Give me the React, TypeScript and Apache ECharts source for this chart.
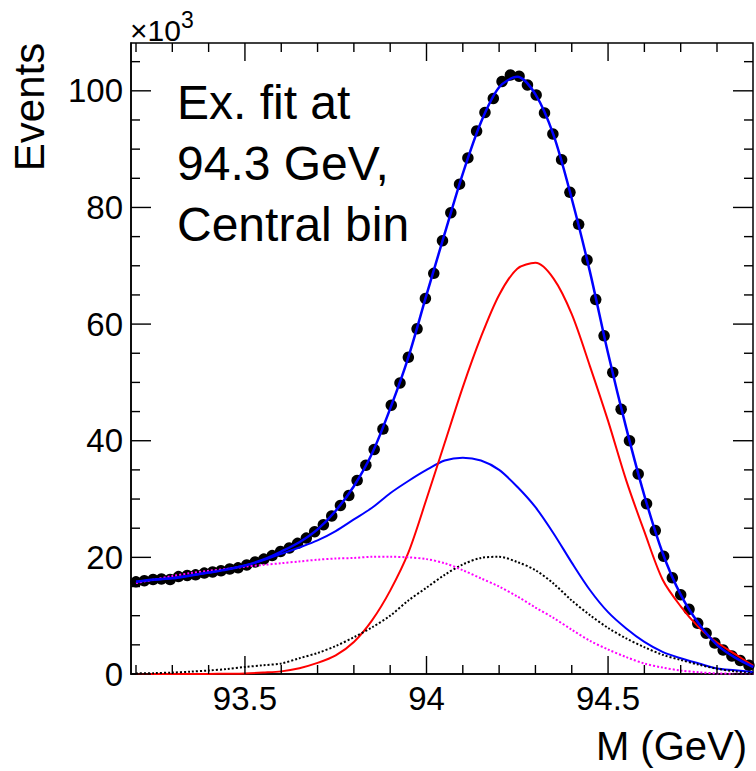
import React, { useEffect, useRef } from "react";
import * as echarts from "echarts";

// ---- data (values in thousands of events) ----
const binCenters = [
  93.2, 93.223, 93.247, 93.27, 93.294, 93.317, 93.341, 93.364, 93.388, 93.411,
  93.434, 93.458, 93.481, 93.505, 93.528, 93.552, 93.575, 93.598, 93.622, 93.645,
  93.669, 93.692, 93.716, 93.739, 93.763, 93.786, 93.809, 93.833, 93.856, 93.88,
  93.903, 93.927, 93.95, 93.974, 93.997, 94.02, 94.044, 94.067, 94.091, 94.114,
  94.138, 94.161, 94.184, 94.208, 94.231, 94.255, 94.278, 94.302, 94.325, 94.348,
  94.372, 94.395, 94.419, 94.442, 94.466, 94.489, 94.513, 94.536, 94.559, 94.583,
  94.606, 94.63, 94.653, 94.677, 94.7, 94.723, 94.747, 94.77, 94.794, 94.817,
  94.841, 94.864, 94.888,
];
const dataEvents = [
  15.8, 16.0, 16.2, 16.3, 16.2, 16.7, 16.9, 17.0, 17.3, 17.5,
  17.7, 18.0, 18.2, 18.7, 19.2, 19.7, 20.3, 21.0, 21.6, 22.4,
  23.3, 24.4, 25.6, 27.1, 28.9, 30.6, 33.2, 35.8, 38.5, 42.0,
  46.1, 49.9, 54.3, 59.2, 64.4, 68.7, 74.3, 79.1, 84.0, 88.5,
  93.1, 96.3, 98.7, 101.6, 102.7, 102.5, 101.0, 99.3, 96.2, 92.6,
  88.2, 82.6, 77.1, 71.0, 64.2, 58.0, 51.7, 45.4, 40.0, 34.3,
  29.2, 24.6, 20.2, 16.5, 13.6, 11.1, 8.7, 7.0, 5.3, 4.1,
  3.1, 2.3, 1.5,
];
const curveMass = [
  93.2, 93.25, 93.3, 93.35, 93.4, 93.45, 93.5, 93.55, 93.6, 93.65,
  93.7, 93.75, 93.8, 93.85, 93.9, 93.95, 94.0, 94.05, 94.1, 94.15,
  94.2, 94.25, 94.3, 94.35, 94.4, 94.45, 94.5, 94.55, 94.6, 94.65,
  94.7, 94.75, 94.8, 94.85, 94.9,
];
const totalFit = [
  15.8, 16.2, 16.4, 16.9, 17.4, 17.9, 18.6, 19.6, 21.0, 22.6,
  24.8, 28.0, 32.2, 37.8, 45.5, 54.3, 65.0, 75.5, 85.8, 94.6,
  100.6, 102.4, 99.4, 92.4, 81.5, 69.0, 55.0, 42.2, 30.6, 20.8,
  13.6, 8.6, 5.0, 2.8, 1.2,
];
const blueComponent = [
  15.8, 16.1, 16.5, 16.9, 17.4, 18.0, 18.6, 19.5, 20.6, 21.7,
  22.9, 24.5, 26.5, 28.5, 31.0, 33.1, 35.0, 36.6, 37.1, 36.6,
  35.0, 32.1, 28.6, 24.1, 19.1, 14.4, 10.6, 7.8, 5.5, 3.8,
  2.7, 1.8, 0.95, 0.65, 0.3,
];
const redComponent = [
  0, 0, 0, 0, 0.02, 0.05, 0.1, 0.25, 0.45, 1.0,
  1.9, 3.2, 5.5, 9.2, 14.3, 20.8, 30.0, 39.6, 49.2, 57.8,
  65.0, 69.5, 70.5, 67.8, 61.7, 52.8, 43.4, 33.2, 24.4, 16.2,
  11.6, 8.0, 5.4, 3.4, 1.4,
];
const blackComponent = [
  0.1, 0.15, 0.25, 0.4, 0.6, 0.85, 1.2, 1.5, 1.8, 2.7,
  3.6, 4.8, 6.3, 8.0, 10.0, 12.6, 14.8, 17.0, 18.8, 19.9,
  20.1, 19.2, 17.8, 15.5, 12.6, 10.1, 7.9, 6.1, 4.6, 3.3,
  2.4, 1.6, 0.9, 0.45, 0.1,
];
const magentaComponent = [
  15.6, 16.2, 16.8, 17.3, 17.7, 18.0, 18.4, 18.7, 19.0, 19.3,
  19.6, 19.8, 19.9, 20.1, 20.1, 20.0, 19.7, 19.0, 17.8, 16.4,
  15.0, 13.3, 11.4, 9.6, 7.6, 5.7, 4.2, 2.9, 1.8, 1.1,
  0.6, 0.3, 0.1, 0.05, 0,
];
const yTickLabels = [0, 20, 40, 60, 80, 100];
const yMinorTicks = [0, 5, 10, 15, 20, 25, 30, 35, 40, 45, 50, 55, 60, 65, 70, 75, 80, 85, 90, 95, 100, 105];
const xTickLabels = [93.5, 94, 94.5];
const xMinorTicks = [93.2, 93.3, 93.4, 93.5, 93.6, 93.7, 93.8, 93.9, 94.0, 94.1, 94.2, 94.3, 94.4, 94.5, 94.6, 94.7, 94.8];

const FONT = "'Liberation Sans', Arial, Helvetica, sans-serif";

const pairs = (xs: number[], ys: number[]) => xs.map((x, i) => [x, ys[i]]);
const isIn = (list: number[], v: number) => list.some((q) => Math.abs(q - v) < 1e-6);

export default function App() {
  const ref = useRef<HTMLDivElement>(null);

  useEffect(() => {
    if (!ref.current) return;
    const chart = echarts.init(ref.current, null, { renderer: "svg" });

    // geometry of the frame
    const L = 131, T = 43, W = 622, H = 631;
    const pxPerGeV = 581 / 1.6; // 93.2 at x=136, 94.8 at x=717
    const x0 = 136;
    const dataMin = 93.2 - (x0 - L) / pxPerGeV;
    const dataMax = 93.2 + (L + W - x0) / pxPerGeV;
    const yMax = 108.2;

    // tick items: [x, y, kind (0 = x tick, 1 = y tick)]
    const tickItems: number[][] = [
      ...xMinorTicks.map((v) => [v, 1, 0]),
      ...yMinorTicks.map((v) => [93.5, v, 1]),
    ];

    const option: any = {
      animation: false,
      backgroundColor: "#fff",
      grid: [
        { left: L, top: T, width: W, height: H, show: true, borderColor: "#000", borderWidth: 1.5, backgroundColor: "transparent" },
        { left: x0 + 0.3 * pxPerGeV, top: T, width: 1.0 * pxPerGeV, height: H, show: false },
      ],
      xAxis: [
        {
          gridIndex: 0, type: "value", position: "bottom", min: dataMin, max: dataMax,
          axisLine: { show: true, onZero: false, lineStyle: { color: "#000", width: 1.5 } },
          axisTick: { show: false }, axisLabel: { show: false }, splitLine: { show: false },
        },
        {
          gridIndex: 1, type: "value", position: "bottom", min: 93.5, max: 94.5, interval: 0.5,
          axisLine: { show: false, onZero: false }, splitLine: { show: false }, axisTick: { show: false },
          axisLabel: {
            show: true, margin: 8, color: "#000", fontFamily: FONT, fontSize: 33, lineHeight: 33,
            formatter: (v: number) => (isIn(xTickLabels, v) ? String(Number(v.toFixed(1))) : ""),
          },
        },
      ],
      yAxis: [
        {
          gridIndex: 0, type: "value", position: "left", min: 0, max: yMax, interval: 20,
          axisLine: { show: true, onZero: false, lineStyle: { color: "#000", width: 1.5 } },
          splitLine: { show: false }, axisTick: { show: false },
          axisLabel: {
            show: true, margin: 8, color: "#000", fontFamily: FONT, fontSize: 33,
            showMaxLabel: false,
            formatter: (v: number) => (isIn(yTickLabels, v) ? String(Math.round(v)) : ""),
          },
        },
        { gridIndex: 1, type: "value", min: 0, max: 1, show: false, axisLine: { show: false, onZero: false } },
      ],
      series: [
        {
          name: "Data", type: "scatter", xAxisIndex: 0, yAxisIndex: 0,
          data: pairs(binCenters, dataEvents),
          symbol: "circle", symbolSize: 11.5,
          itemStyle: { color: "#000", opacity: 1 }, z: 2,
        },
        {
          name: "Component (blue)", type: "line", xAxisIndex: 0, yAxisIndex: 0,
          data: pairs(curveMass, blueComponent), showSymbol: false, smooth: 0.3,
          lineStyle: { color: "#0000ff", width: 2 }, z: 3,
        },
        {
          name: "Component (red)", type: "line", xAxisIndex: 0, yAxisIndex: 0,
          data: pairs(curveMass, redComponent), showSymbol: false, smooth: 0.3,
          lineStyle: { color: "#ff0000", width: 2 }, z: 3,
        },
        {
          name: "Component (black)", type: "line", xAxisIndex: 0, yAxisIndex: 0,
          data: pairs(curveMass, blackComponent), showSymbol: false, smooth: 0.3,
          lineStyle: { color: "#000000", width: 2, type: [2, 2] }, z: 3,
        },
        {
          name: "Component (magenta)", type: "line", xAxisIndex: 0, yAxisIndex: 0,
          data: pairs(curveMass, magentaComponent), showSymbol: false, smooth: 0.3,
          lineStyle: { color: "#ff00ff", width: 2, type: [2, 2] }, z: 3,
        },
        {
          name: "Total fit", type: "line", xAxisIndex: 0, yAxisIndex: 0,
          data: pairs(curveMass, totalFit), showSymbol: false, smooth: 0.3,
          lineStyle: { color: "#0000ff", width: 2.5 }, z: 4,
        },
        {
          name: "Ticks", type: "custom", xAxisIndex: 0, yAxisIndex: 0,
          data: tickItems, encode: { x: 0, y: 1 }, z: 5, silent: true, clip: false,
          renderItem: (params: any, api: any) => {
            const cs = params.coordSys;
            const kind = api.value(2);
            const st = { stroke: "#000", lineWidth: 1.4 };
            if (kind === 0) {
              const xv = api.value(0);
              const px = api.coord([xv, 0])[0];
              const len = isIn(xTickLabels, xv) ? 18 : 9;
              const bottom = cs.y + cs.height;
              return {
                type: "group",
                children: [
                  { type: "line", shape: { x1: px, y1: bottom, x2: px, y2: bottom - len }, style: { ...st } },
                  { type: "line", shape: { x1: px, y1: cs.y, x2: px, y2: cs.y + len }, style: { ...st } },
                ],
              };
            }
            const yv = api.value(1);
            const py = api.coord([93.5, yv])[1];
            const len = isIn(yTickLabels, yv) ? 20 : 9;
            const right = cs.x + cs.width;
            return {
              type: "group",
              children: [
                { type: "line", shape: { x1: cs.x, y1: py, x2: cs.x + len, y2: py }, style: { ...st } },
                { type: "line", shape: { x1: right, y1: py, x2: right - len, y2: py }, style: { ...st } },
              ],
            };
          },
        },
      ],
      graphic: [
        {
          type: "text", x: 29, y: 107, rotation: Math.PI / 2,
          style: { text: "Events", font: `42px ${FONT}`, fill: "#000", textAlign: "center", textVerticalAlign: "middle" },
        },
        {
          type: "text", x: 747, y: 746,
          style: { text: "M (GeV)", font: `40px ${FONT}`, fill: "#000", textAlign: "right", textVerticalAlign: "middle" },
        },
        {
          type: "text", x: 130, y: 30,
          style: { text: "\u00d710", font: `30px ${FONT}`, fill: "#000", textAlign: "left", textVerticalAlign: "middle" },
        },
        {
          type: "text", x: 181, y: 20,
          style: { text: "3", font: `23px ${FONT}`, fill: "#000", textAlign: "left", textVerticalAlign: "middle" },
        },
        {
          type: "text", x: 177, y: 72,
          style: {
            text: "Ex. fit at\n94.3 GeV,\nCentral bin",
            font: `48px ${FONT}`, lineHeight: 61, fill: "#000", textAlign: "left", textVerticalAlign: "top",
          },
        },
      ],
    };

    chart.setOption(option);
    return () => chart.dispose();
  }, []);

  return (
    <div
      ref={ref}
      style={{ position: "fixed", left: 0, top: 0, width: 756, height: 771, background: "#fff" }}
    />
  );
}
